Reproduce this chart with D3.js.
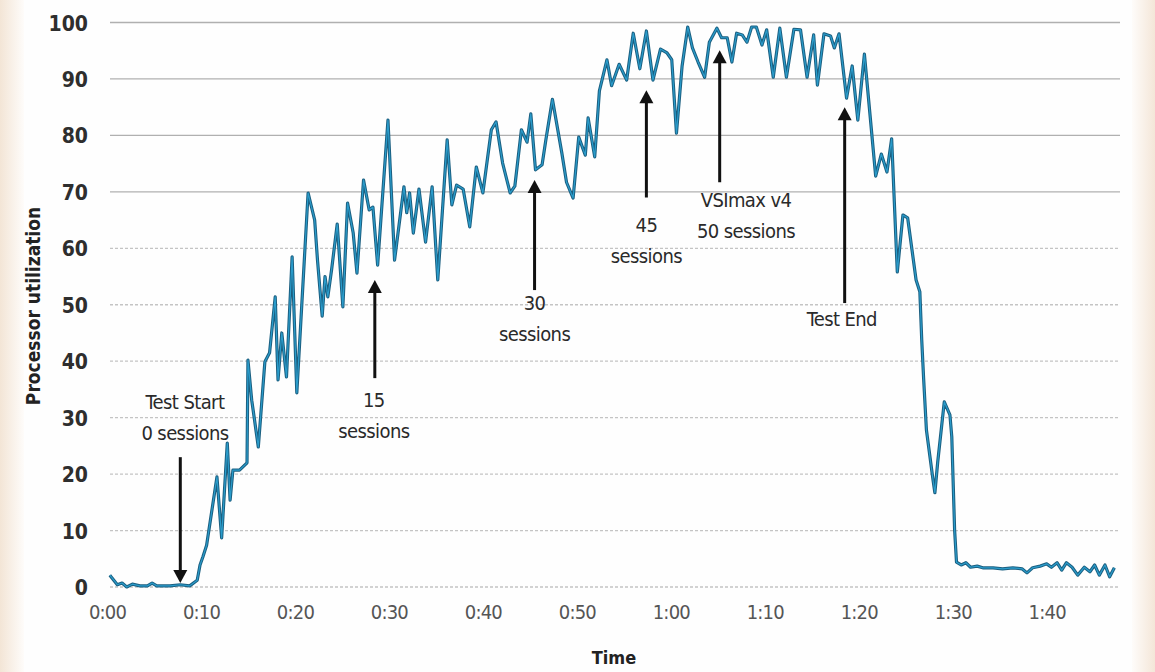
<!DOCTYPE html>
<html>
<head>
<meta charset="utf-8">
<script src="https://cdn.jsdelivr.net/npm/d3@7"></script>
<style>
  body { margin: 0; background: #fff; }
  svg text { font-family: "DejaVu Sans Condensed", "DejaVu Sans", sans-serif; font-stretch: condensed; }
</style>
</head>
<body>
<div id="chart"></div>
<script>
const FWIDTH = 1155,
    FHEIGHT = 672;

// time in minutes, processor utilization in %
const timeMin = [
  0.3, 1.1, 1.6, 2.1, 2.7, 3.5, 4.3, 4.8, 5.3, 6.7, 7.8, 8.8, 9.6, 9.9, 10.2, 10.6,
  11.2, 11.7, 12.2, 12.8, 13.1, 13.4, 14.1, 14.9, 15.0, 15.4, 15.7, 16.1, 16.8, 17.3,
  17.9, 18.2, 18.6, 19.1, 19.7, 20.2, 21.4, 22.1, 22.4, 22.9, 23.2, 23.5, 23.9, 24.5,
  25.1, 25.6, 26.2, 26.6, 27.3, 27.9, 28.3, 28.8, 29.9, 30.6, 31.6, 31.9, 32.2, 32.6,
  33.2, 33.9, 34.6, 35.2, 36.2, 36.7, 37.2, 37.9, 38.6, 39.3, 40.0, 40.9, 41.4, 42.1,
  42.9, 43.4, 44.1, 44.7, 45.1, 45.6, 46.3, 46.7, 47.4, 48.4, 48.9, 49.6, 50.2, 50.9,
  51.2, 51.9, 52.4, 53.2, 53.7, 54.5, 55.3, 56.0, 56.7, 57.4, 58.1, 58.9, 59.6, 60.1,
  60.6, 61.2, 61.8, 62.3, 62.9, 63.6, 64.1, 64.9, 65.4, 66.0, 66.5, 67.0, 67.6, 68.1,
  68.6, 69.1, 69.7, 70.2, 70.9, 71.6, 72.3, 73.1, 73.8, 74.5, 75.2, 75.6, 76.3, 77.0,
  77.4, 77.9, 78.7, 79.3, 79.9, 80.6, 81.3, 81.8, 82.4, 83.0, 83.5, 84.1, 84.7, 85.2,
  86.1, 86.5, 86.7, 86.9, 87.2, 87.9, 88.1, 88.4, 89.1, 89.7, 89.9, 90.2, 90.4, 90.9,
  91.4, 91.9, 92.6, 93.2, 94.3, 95.3, 96.4, 97.4, 97.9, 98.5, 99.3, 100.0, 100.5, 101.1,
  101.6, 102.1, 102.7, 103.3, 104.0, 104.6, 105.1, 105.6, 106.2, 106.7, 107.2
];
const cpuUtil = [
  2.1, 0.4, 0.7, 0.0, 0.5, 0.2, 0.2, 0.7, 0.2, 0.2, 0.4, 0.2, 1.2, 3.9, 5.3, 7.4,
  14.0, 19.5, 8.7, 25.5, 15.4, 20.7, 20.7, 22.0, 40.2, 33.1, 29.6, 24.8, 39.9, 41.5,
  51.4, 36.7, 45.0, 37.2, 58.5, 34.4, 69.8, 65.0, 57.9, 48.0, 55.0, 51.4, 56.2, 64.3,
  49.6, 68.0, 62.7, 55.6, 72.1, 66.8, 67.3, 57.0, 82.7, 57.9, 70.9, 66.3, 69.8, 62.7,
  70.5, 61.1, 70.9, 54.4, 79.2, 67.7, 71.2, 70.5, 63.8, 74.4, 69.8, 81.0, 82.4, 75.1,
  69.8, 71.0, 81.0, 78.8, 83.8, 73.9, 74.8, 79.2, 86.4, 76.9, 71.7, 68.9, 79.7, 76.5,
  83.1, 76.2, 87.9, 93.4, 88.8, 92.6, 89.8, 98.1, 91.8, 98.5, 89.8, 95.3, 94.6, 93.4,
  80.4, 92.3, 99.2, 95.5, 93.0, 90.3, 96.5, 99.0, 97.3, 97.3, 93.0, 98.1, 97.8, 96.5,
  99.2, 99.2, 96.0, 98.7, 90.3, 99.0, 90.3, 98.8, 98.7, 90.3, 97.8, 88.9, 98.0, 97.6,
  95.5, 98.0, 86.6, 92.3, 82.7, 94.4, 81.8, 72.8, 76.7, 73.5, 79.4, 55.8, 65.9, 65.4,
  54.4, 52.3, 43.8, 37.0, 27.8, 19.0, 16.7, 22.1, 32.8, 30.5, 26.6, 10.1, 4.4, 3.9,
  4.3, 3.5, 3.7, 3.4, 3.4, 3.2, 3.4, 3.2, 2.5, 3.4, 3.7, 4.1, 3.5, 4.3,
  3.0, 4.3, 3.5, 2.1, 3.5, 2.7, 3.9, 2.1, 3.9, 1.8, 3.4
];

const yTicks = [0, 10, 20, 30, 40, 50, 60, 70, 80, 90, 100];
const xTicks = [0, 10, 20, 30, 40, 50, 60, 70, 80, 90, 100];
const xTickLabels = ["0:00", "0:10", "0:20", "0:30", "0:40", "0:50", "1:00", "1:10", "1:20", "1:30", "1:40"];

// annotations: arrow at time, from tail value to tip value, label lines
const noteLines = [["Test Start", "0 sessions"], ["15", "sessions"], ["30", "sessions"],
  ["45", "sessions"], ["VSImax v4", "50 sessions"], ["Test End"]];
const noteTime = [7.8, 28.5, 45.5, 57.4, 65.2, 78.5];
const noteTip = [0.7, 54.4, 72.1, 88.0, 95.1, 85.0];
const noteTail = [23.0, 37.0, 52.6, 69.0, 71.7, 50.3];
const noteTextTime = [8.3, 28.4, 45.5, 57.4, 68.0, 78.2];
const noteTextVal = [32.8, 33.1, 50.3, 64.1, 68.6, 47.5];

const svg = d3.select("#chart")
    .append("svg")
    .attr("width", FWIDTH)
    .attr("height", FHEIGHT);

const defs = svg.append("defs");
const gl = defs.append("linearGradient").attr("id", "edgeL");
gl.append("stop").attr("offset", "0%").attr("stop-color", "#f3e5d6");
gl.append("stop").attr("offset", "100%").attr("stop-color", "#fefcfa");
const gr = defs.append("linearGradient").attr("id", "edgeR");
gr.append("stop").attr("offset", "0%").attr("stop-color", "#fefcfa");
gr.append("stop").attr("offset", "100%").attr("stop-color", "#f4e6d8");

svg.append("rect").attr("width", FWIDTH).attr("height", FHEIGHT).attr("fill", "#fefefe");
svg.append("rect").attr("x", 0).attr("width", 24).attr("height", FHEIGHT).attr("fill", "url(#edgeL)");
svg.append("rect").attr("x", 1132).attr("width", 23).attr("height", FHEIGHT).attr("fill", "url(#edgeR)");

const x = d3.scaleLinear().domain([0, 107.8]).range([107, 1120]);
const y = d3.scaleLinear().domain([0, 100]).range([587, 22.5]);

// gridlines
svg.append("g")
    .selectAll("line")
    .data(yTicks)
    .join("line")
    .attr("x1", 110)
    .attr("x2", 1120)
    .attr("y1", d => y(d))
    .attr("y2", d => y(d))
    .attr("stroke", d => d >= 70 ? "#b0b0b0" : "#c4c4c4")
    .attr("stroke-width", 1.3)
    .attr("stroke-dasharray", d => d >= 70 ? null : "3,2");

// y axis
const yAxis = svg.append("g")
    .attr("transform", "translate(88,0)")
    .call(d3.axisLeft(y).tickValues(yTicks).tickSize(0).tickPadding(0));
yAxis.select(".domain").remove();
yAxis.selectAll("text")
    .attr("font-size", "21px")
    .attr("font-weight", "bold")
    .attr("fill", "#2e2e2e")
    .attr("dy", "0.36em");

// x axis
const xAxis = svg.append("g")
    .attr("transform", "translate(0,605)")
    .call(d3.axisBottom(x).tickValues(xTicks).tickFormat((d, i) => xTickLabels[i]).tickSize(0).tickPadding(0));
xAxis.select(".domain").remove();
xAxis.selectAll("text")
    .attr("font-size", "20px")
    .attr("fill", "#555")
    .attr("letter-spacing", "-0.8px")
    .attr("dy", "0.7em");

// axis titles
svg.append("text")
    .text("Processor utilization")
    .attr("transform", "translate(40,306) rotate(-90)")
    .attr("text-anchor", "middle")
    .attr("font-size", "19px")
    .attr("font-weight", "bold")
    .attr("fill", "#222");

svg.append("text")
    .text("Time")
    .attr("x", 614)
    .attr("y", 664)
    .attr("text-anchor", "middle")
    .attr("font-size", "18px")
    .attr("font-weight", "bold")
    .attr("fill", "#222");

// data line
const series = timeMin.map((t, i) => ({ t: t, v: cpuUtil[i] }));
const line = d3.line().x(d => x(d.t)).y(d => y(d.v));

svg.append("path")
    .datum(series)
    .attr("d", line)
    .attr("fill", "none")
    .attr("stroke", "#1b5f80")
    .attr("stroke-width", 3.2)
    .attr("stroke-linejoin", "round");
svg.append("path")
    .datum(series)
    .attr("d", line)
    .attr("fill", "none")
    .attr("stroke", "#2a9ccb")
    .attr("stroke-width", 1.2)
    .attr("stroke-linejoin", "round");

// annotation arrows
const notes = noteLines.map((lines, i) => ({
    lines: lines, t: noteTime[i], tip: noteTip[i], tail: noteTail[i],
    tt: noteTextTime[i], tv: noteTextVal[i]
}));

const ng = svg.append("g").selectAll("g").data(notes).join("g");
ng.append("line")
    .attr("x1", d => x(d.t))
    .attr("x2", d => x(d.t))
    .attr("y1", d => y(d.tail))
    .attr("y2", d => y(d.tip) + (d.tip < d.tail ? -10 : 10))
    .attr("stroke", "#111")
    .attr("stroke-width", 3);
ng.append("path")
    .attr("d", d => {
        const px = x(d.t), py = y(d.tip);
        const dir = d.tip < d.tail ? -1 : 1; // pointing down when tip below tail
        return `M${px},${py} L${px - 7},${py + dir * 13} L${px + 7},${py + dir * 13} Z`;
    })
    .attr("fill", "#111");
ng.each(function (d) {
    const g = d3.select(this);
    d.lines.forEach((s, k) => {
        g.append("text")
            .text(s)
            .attr("x", x(d.tt))
            .attr("y", y(d.tv) + k * 31)
            .attr("dy", "0.36em")
            .attr("text-anchor", "middle")
            .attr("font-size", "20px")
            .attr("letter-spacing", "-0.6px")
            .attr("fill", "#2a2a2a");
    });
});
</script>
</body>
</html>
